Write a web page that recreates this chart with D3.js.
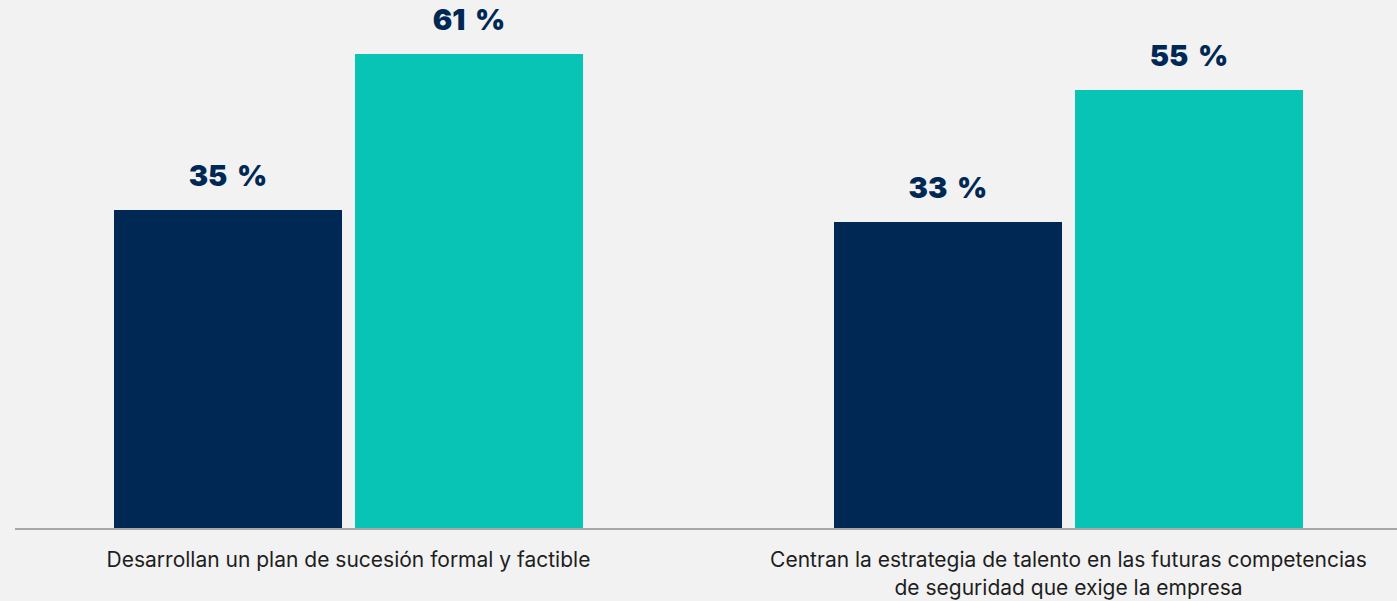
<!DOCTYPE html>
<meta charset='utf-8'>
<style type="text/css">
	body { margin: 0; background: #f2f2f2; }
	.cat-label { font-family: Inter, "Noto Sans", sans-serif; font-size: 21px; fill: #1e1e1e; }
	.val-label { font-family: Inter, "Noto Sans", sans-serif; font-size: 29px; font-weight: 900; fill: #002855; }
</style>
<body>
<div class="chart"></div>
<script src='https://cdn.jsdelivr.net/npm/d3@7/dist/d3.min.js'></script>
<script>

var categories = [
	['Desarrollan un plan de sucesión formal y factible'],
	['Centran la estrategia de talento en las futuras competencias', 'de seguridad que exige la empresa']
];
var series = ['grupoA', 'grupoB'];
var valuesA = [35, 33];
var valuesB = [61, 55];
var colors = ['#002855', '#07c4b4'];

var width = 1397, height = 601;

var svg = d3.select('.chart')
	.append('svg')
	.attr('width', width)
	.attr('height', height)
	.style('display', 'block');

svg.append('rect')
	.attr('width', width)
	.attr('height', height)
	.attr('fill', '#f2f2f2');

var catKeys = categories.map(function(d, i){ return i; });

var x0 = d3.scaleBand()
	.domain(catKeys)
	.range([114, 1303])
	.paddingInner(0.3486)
	.paddingOuter(0);

var x1 = d3.scaleBand()
	.domain(series)
	.range([0, x0.bandwidth()])
	.paddingInner(0.054);

// baseline sits below zero in the original chart
var y = d3.scaleLinear()
	.domain([-18, 70])
	.range([528, 0]);

var colorScale = d3.scaleOrdinal()
	.domain(series)
	.range(colors);

var rows = catKeys.map(function(i){
	return [
		{cat: i, key: series[0], value: valuesA[i]},
		{cat: i, key: series[1], value: valuesB[i]}
	];
});

var groups = svg.selectAll('.group')
	.data(rows)
	.enter().append('g')
	.attr('class', 'group')
	.attr('transform', function(d, i){ return 'translate(' + x0(i) + ',0)'; });

groups.selectAll('rect')
	.data(function(d){ return d; })
	.enter().append('rect')
	.attr('x', function(d){ return x1(d.key); })
	.attr('y', function(d){ return y(d.value); })
	.attr('width', x1.bandwidth())
	.attr('height', function(d){ return y.range()[0] - y(d.value); })
	.attr('fill', function(d){ return colorScale(d.key); });

groups.selectAll('.val-label')
	.data(function(d){ return d; })
	.enter().append('text')
	.attr('class', 'val-label')
	.attr('text-anchor', 'middle')
	.attr('x', function(d){ return x1(d.key) + x1.bandwidth() / 2; })
	.attr('y', function(d){ return y(d.value) - 24; })
	.text(function(d){ return d.value + '\u2009\u00a0%'; });

// baseline
svg.append('line')
	.attr('x1', 15)
	.attr('x2', width)
	.attr('y1', 529)
	.attr('y2', 529)
	.attr('stroke', '#a4a7a9')
	.attr('stroke-width', 2);

var cats = svg.selectAll('.cat-label')
	.data(categories)
	.enter().append('text')
	.attr('class', 'cat-label')
	.attr('text-anchor', 'middle')
	.attr('x', function(d, i){ return x0(i) + x0.bandwidth() / 2; })
	.attr('y', 567);

cats.selectAll('tspan')
	.data(function(d){ return d; })
	.enter().append('tspan')
	.attr('x', function(){ return d3.select(this.parentNode).attr('x'); })
	.attr('dy', function(d, i){ return i === 0 ? 0 : 28; })
	.text(function(d){ return d; });

</script>
</body>
</html>
